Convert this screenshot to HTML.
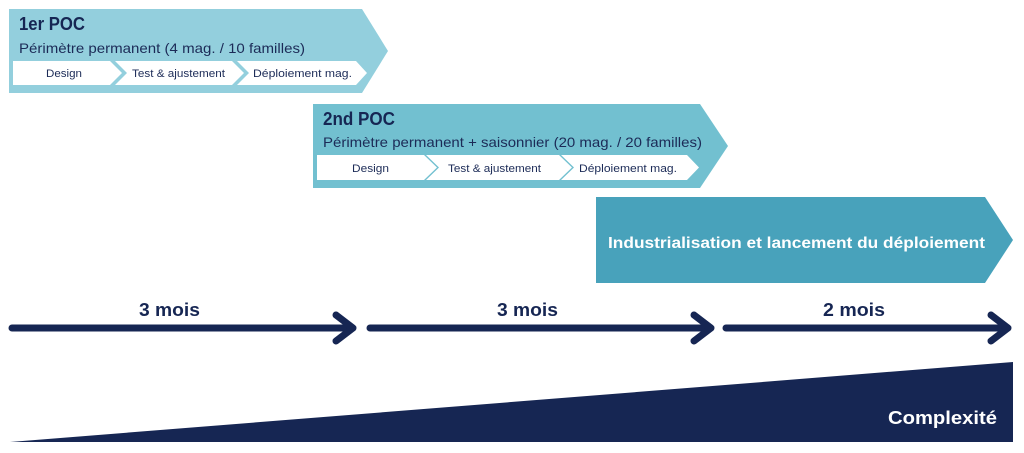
<!DOCTYPE html>
<html><head><meta charset="utf-8"><style>
html,body{margin:0;padding:0;background:#fff;}
svg{display:block;}
text{font-family:"Liberation Sans",sans-serif;}
</style></head><body>
<svg width="1024" height="453" viewBox="0 0 1024 453" xmlns="http://www.w3.org/2000/svg">
<!-- Box 1 -->
<polygon points="9,9 362,9 388,51 362,93 9,93" fill="#93cfdd"/>
<polygon points="13,61 110,61 122,73 110,85 13,85" fill="#fff"/>
<polygon points="115,61 232,61 244,73 232,85 115,85 127,73" fill="#fff"/>
<polygon points="237,61 356,61 367,73 356,85 237,85 249,73" fill="#fff"/>
<text x="19" y="30" font-size="18" font-weight="bold" fill="#162653" textLength="66" lengthAdjust="spacingAndGlyphs">1er POC</text>
<text x="19" y="53" font-size="14" fill="#1c2b57" textLength="286" lengthAdjust="spacingAndGlyphs">Périmètre permanent (4 mag. / 10 familles)</text>
<text x="46" y="77" font-size="11" fill="#1c2b57" textLength="36" lengthAdjust="spacingAndGlyphs">Design</text>
<text x="132" y="77" font-size="11" fill="#1c2b57" textLength="93" lengthAdjust="spacingAndGlyphs">Test &amp; ajustement</text>
<text x="253" y="77" font-size="11" fill="#1c2b57" textLength="99" lengthAdjust="spacingAndGlyphs">Déploiement mag.</text>

<!-- Box 2 -->
<polygon points="313,104 700,104 728,146 700,188 313,188" fill="#72c0d0"/>
<polygon points="317,155 424,155 437,167.5 424,180 317,180" fill="#fff"/>
<polygon points="426,155 559,155 572,167.5 559,180 426,180 439,167.5" fill="#fff"/>
<polygon points="561,155 687,155 699,167.5 687,180 561,180 574,167.5" fill="#fff"/>
<text x="323" y="125" font-size="18" font-weight="bold" fill="#162653" textLength="72" lengthAdjust="spacingAndGlyphs">2nd POC</text>
<text x="323" y="147" font-size="14" fill="#1c2b57" textLength="379" lengthAdjust="spacingAndGlyphs">Périmètre permanent + saisonnier (20 mag. / 20 familles)</text>
<text x="352" y="172" font-size="11" fill="#1c2b57" textLength="37" lengthAdjust="spacingAndGlyphs">Design</text>
<text x="448" y="172" font-size="11" fill="#1c2b57" textLength="93" lengthAdjust="spacingAndGlyphs">Test &amp; ajustement</text>
<text x="579" y="172" font-size="11" fill="#1c2b57" textLength="98" lengthAdjust="spacingAndGlyphs">Déploiement mag.</text>

<!-- Box 3 -->
<polygon points="596,197 985,197 1013,240 985,283 596,283" fill="#48a2bb"/>
<text x="608" y="248" font-size="16" font-weight="bold" fill="#fff" textLength="377" lengthAdjust="spacingAndGlyphs">Industrialisation et lancement du déploiement</text>

<!-- Arrows -->
<g stroke="#162653" stroke-width="7" stroke-linecap="round" stroke-linejoin="round" fill="none">
<line x1="12" y1="328" x2="352" y2="328"/>
<polyline points="336,315 353,328 336,341"/>
<line x1="370" y1="328" x2="710" y2="328"/>
<polyline points="694,315 711,328 694,341"/>
<line x1="726" y1="328" x2="1007" y2="328"/>
<polyline points="991,315 1008,328 991,341"/>
</g>
<text x="139" y="316" font-size="18" font-weight="bold" fill="#162653" textLength="61" lengthAdjust="spacingAndGlyphs">3 mois</text>
<text x="497" y="316" font-size="18" font-weight="bold" fill="#162653" textLength="61" lengthAdjust="spacingAndGlyphs">3 mois</text>
<text x="823" y="316" font-size="18" font-weight="bold" fill="#162653" textLength="62" lengthAdjust="spacingAndGlyphs">2 mois</text>

<!-- Complexity wedge -->
<polygon points="10,442 1013,362 1013,442" fill="#162653"/>
<text x="888" y="424" font-size="18" font-weight="bold" fill="#fff" textLength="109" lengthAdjust="spacingAndGlyphs">Complexité</text>
</svg>
</body></html>
